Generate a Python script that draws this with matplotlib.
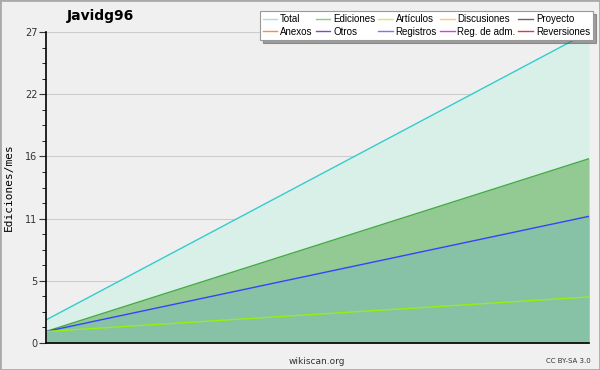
import matplotlib
matplotlib.use("Agg")
import matplotlib.pyplot as plt
from matplotlib.lines import Line2D
from matplotlib.ticker import FixedLocator, AutoMinorLocator
import matplotlib.patches as mpatches

# Data (two monthly points)
months = [0, 1]
total = [2, 27]
ediciones = [1, 16]
registros = [1, 11]
articulos = [1, 4]

yticks = [0, 5.4, 10.8, 16.2, 21.6, 27]
ytick_labels = ["0", "5", "11", "16", "22", "27"]

legend_names = ["Total", "Ediciones", "Artículos", "Discusiones", "Proyecto",
                "Anexos", "Otros", "Registros", "Reg. de adm.", "Reversiones"]
legend_colors = ["#aadddd", "#88cc88", "#ccee66", "#ffcc55", "#666666",
                 "#ff8844", "#8844cc", "#7777ee", "#cc44dd", "#ee3333"]

plt.rcParams['font.family'] = ['DejaVu Sans']

fig = plt.figure(figsize=(6.0, 3.7), dpi=100, facecolor="#f0f0f0")
fig.patches.append(mpatches.Rectangle((0, 0), 1, 1, transform=fig.transFigure,
                                      fill=False, edgecolor="#aaaaaa", lw=2))
ax = fig.add_axes([46/600, 1-343/370, (589-46)/600, (343-32)/370])
ax.set_facecolor("#efeff0")

ax.fill_between(months, 0, total, color="#d9f0e9", lw=0)
ax.fill_between(months, 0, ediciones, color="#93c993", lw=0)
ax.fill_between(months, 0, registros, color="#88c2a6", lw=0)
ax.plot(months, total, color="#33cccc", lw=1)
ax.plot(months, ediciones, color="#44aa44", lw=1)
ax.plot(months, registros, color="#3344ff", lw=1)
ax.plot(months, articulos, color="#99ee11", lw=1)

ax.set_xlim(0, 1)
ax.set_ylim(0, 27)
ax.yaxis.set_major_locator(FixedLocator(yticks))
ax.set_yticklabels(ytick_labels)
ax.yaxis.set_minor_locator(AutoMinorLocator(4))
ax.set_xticks([])
ax.tick_params(axis='y', which='major', length=5, labelsize=7, colors="#333333", pad=1)
ax.tick_params(axis='y', which='minor', length=3)
for s in ["top", "right"]:
    ax.spines[s].set_visible(False)
ax.spines["left"].set_linewidth(1.2)
ax.spines["bottom"].set_linewidth(1.2)
ax.grid(True, axis='y', which='major', color="#cccccc", lw=0.8, zorder=0.5)
ax.set_axisbelow(True)

ax.set_ylabel("Ediciones/mes", fontsize=8, family="DejaVu Sans Mono", labelpad=8)
fig.text(100/600, 1-16/370, "Javidg96", fontsize=10, fontweight="bold", ha="center", va="center")
fig.text(317/600, 1-361/370, "wikiscan.org", fontsize=6.5, ha="center", va="center", color="#333333")
fig.text(568/600, 1-361/370, "CC BY-SA 3.0", fontsize=5, ha="center", va="center", color="#333333")

order = [0, 5, 1, 6, 2, 7, 3, 8, 4, 9]
handles = [Line2D([0], [0], color=legend_colors[i], lw=1) for i in order]
labels = [legend_names[i] for i in order]
leg = fig.legend(handles, labels, ncol=5, loc="upper right", bbox_to_anchor=(593/600, 1-11/370),
                 prop={"family": "Liberation Sans", "size": 7}, frameon=True, fancybox=False,
                 shadow=True, handlelength=1.5, handletextpad=0.3, columnspacing=0.3,
                 labelspacing=0.3, borderpad=0.3, borderaxespad=0)
leg.get_frame().set_edgecolor("#999999")
leg.get_frame().set_linewidth(0.8)

fig.savefig("out.png", dpi=100, facecolor=fig.get_facecolor())
